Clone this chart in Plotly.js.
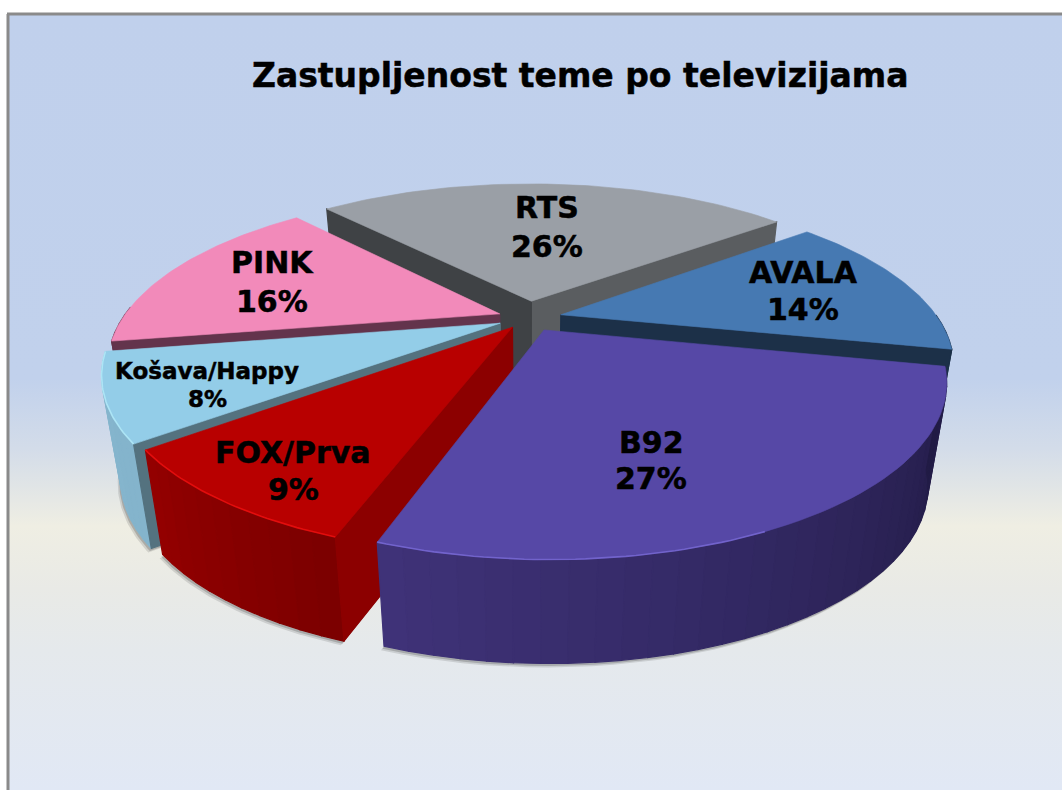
<!DOCTYPE html>
<html><head><meta charset="utf-8">
<script src="https://cdn.plot.ly/plotly-3.0.1.min.js"></script>
<style>
html,body{margin:0;padding:0;background:#fff;width:1062px;height:790px;overflow:hidden}
#bg{position:absolute;left:8px;top:14px;width:1054px;height:776px;
background:linear-gradient(to bottom,#C0D0EC 0,#C1D1EC 47%,#D3DCE9 56%,#EFEEE3 66%,#E9EAE6 74%,#E5E9EC 82%,#E1E8F5 100%)}
#chart{position:absolute;left:0;top:0;width:1062px;height:790px}
.annotation-text{stroke:#000;stroke-width:0.5px}
</style></head><body>
<div id="bg"></div><div id="chart"></div>
<script>
const titleText = 'Zastupljenost teme po televizijama';
const categories = ['RTS','AVALA','B92','FOX/Prva','Košava/Happy','PINK'];
const values = [26,14,27,9,8,16];

// Styling of each slice, in the same order as the categories
const topColors   = ['#9A9FA6','#4679B2','#5648A6','#B80000','#93CDE8','#F28ABA'];
const startWall   = ['#3F4245',null,null,'#8C0000','#54727F','#63344C'];
const endWall     = ['#5A5D60','#1C3048',null,null,null,null];
const outerLeft   = ['#5A5D60','#1C3048','#3F3278','#930000','#86B6CE','#63344C'];
const outerRight  = ['#5A5D60','#1C3048','#211B45','#7C0000','#84B4CC','#63344C'];
const rimColors   = [null,null,'#7A6CD8','#F01010','#B4ECFA',null];
const explode     = [0.11,0.09,0.085,0.07,0.08,0.08];
const drawOrder   = [0,1,5,4,3,2];
const labelX      = [547,803,651,293,207,272];
const labelY1     = [207,272,442,452,371,262];
const labelY2     = [246,309,478,489,399,301];
const labelSize   = [30,30,30,30,23,30];

// Projection of the 3D disc
const startAngle = -42, cx = 528, cy = 318, A = 377, B = 158, K = 0.277, H = 114, S = 0.045;
const rad = d => d * Math.PI / 180;
const total = values.reduce((a,b)=>a+b,0);

function project(u, v, h){
  const w = 1 - K * v, f = 1 - S * h;
  return [cx + f * A * u / w, cy + f * B * v / w + H * h * (0.9 + 0.1 * v)];
}
const angles = []; let acc = startAngle;
values.forEach(v => { angles.push([acc, acc + 360 * v / total]); acc += 360 * v / total; });

function wedgePoint(i, deg, r, h){
  const mid = (angles[i][0] + angles[i][1]) / 2;
  const ou = explode[i] * Math.sin(rad(mid)), ov = -explode[i] * Math.cos(rad(mid));
  return project(ou + r * Math.sin(rad(deg)), ov - r * Math.cos(rad(deg)), h);
}
function arc(i, from, to, h, n){
  const pts = [];
  for (let s = 0; s <= n; s++) pts.push(wedgePoint(i, from + (to - from) * s / n, 1, h));
  return pts;
}
function poly(pts, color, opacity, lw){
  const closed = pts.concat([pts[0]]);
  return {type:'scatter', mode:'lines', x:closed.map(p=>p[0]), y:closed.map(p=>p[1]),
    fill:'toself', fillcolor:color, line:{width:lw===undefined?1.2:lw,color:color}, opacity:opacity===undefined?1:opacity,
    hoverinfo:'skip', showlegend:false};
}
function mix(c1,c2,t){
  const p=c=>[1,3,5].map(j=>parseInt(c.substr(j,2),16));
  const a=p(c1),b=p(c2);
  return 'rgb('+a.map((x,j)=>Math.round(x+(b[j]-x)*t)).join(',')+')';
}
const traces = [];
// soft shadows
[[-3,4,0.18],[-1.5,2.5,0.3]].forEach(([dx,dy,op])=>{
  drawOrder.forEach(i=>{
    const [a0,a1]=angles[i];
    const pts=[wedgePoint(i,a0,0,1)].concat(arc(i,a0,a1,1,40)).map(p=>[p[0]+dx,p[1]+dy]);
    traces.push(poly(pts,'#555555',op,0));
  });
});
drawOrder.forEach(i=>{
  const [a0,a1]=angles[i];
  const apexT=wedgePoint(i,a0,0,0), apexB=wedgePoint(i,a0,0,1);
  const steps=Math.max(6,Math.round((a1-a0)/3));
  for(let s=0;s<steps;s++){
    const p=a1-(a1-a0)*s/steps, q=a1-(a1-a0)*(s+1)/steps;
    if(-Math.cos(rad((p+q)/2))<-0.02) continue;   // back-facing rim is hidden
    traces.push(poly([wedgePoint(i,p,1,0),wedgePoint(i,q,1,0),wedgePoint(i,q,1,1),wedgePoint(i,p,1,1)],
      mix(outerLeft[i],outerRight[i],s/(steps-1))));
  }
  if(endWall[i]) traces.push(poly([apexT,wedgePoint(i,a1,1,0),wedgePoint(i,a1,1,1),apexB],endWall[i]));
  if(startWall[i]) traces.push(poly([apexT,wedgePoint(i,a0,1,0),wedgePoint(i,a0,1,1),apexB],startWall[i]));
  const topPts=[apexT].concat(arc(i,a0,a1,0,60));
  traces.push(poly(topPts,topColors[i],1,0.6));
  if(rimColors[i]){
    const rim=arc(i,a0+(a1-a0)*(i===2?0.55:0),a1,0,40);
    traces.push({type:'scatter',mode:'lines',x:rim.map(p=>p[0]),y:rim.map(p=>p[1]),
      line:{color:rimColors[i],width:1.6},opacity:0.8,hoverinfo:'skip',showlegend:false});
  }
});

const fontFam='"DejaVu Sans", Verdana, sans-serif';
const annotations=[];
categories.forEach((c,i)=>{
  annotations.push({x:labelX[i],y:labelY1[i],text:'<b>'+c+'</b>',showarrow:false,xref:'x',yref:'y',
    font:{family:fontFam,size:labelSize[i],color:'#000'}});
  annotations.push({x:labelX[i],y:labelY2[i],text:'<b>'+values[i]+'%</b>',showarrow:false,xref:'x',yref:'y',
    font:{family:fontFam,size:labelSize[i],color:'#000'}});
});
annotations.push({x:580,y:75,text:'<b>'+titleText+'</b>',showarrow:false,xref:'x',yref:'y',
  font:{family:fontFam,size:33,color:'#000'}});

const layout={width:1062,height:790,margin:{l:0,r:0,t:0,b:0},
  paper_bgcolor:'rgba(0,0,0,0)',plot_bgcolor:'rgba(0,0,0,0)',showlegend:false,
  xaxis:{range:[0,1062],visible:false,fixedrange:true},
  yaxis:{range:[790,0],visible:false,fixedrange:true},
  annotations,
  shapes:[
    {type:'line',xref:'x',yref:'y',x0:8,x1:8,y0:14,y1:790,line:{color:'#8A8A8A',width:3}},
    {type:'line',xref:'x',yref:'y',x0:7,x1:1062,y0:14,y1:14,line:{color:'#8A8A8A',width:3}}
  ]};
Plotly.newPlot('chart',traces,layout,{displayModeBar:false,staticPlot:true});
</script></body></html>
